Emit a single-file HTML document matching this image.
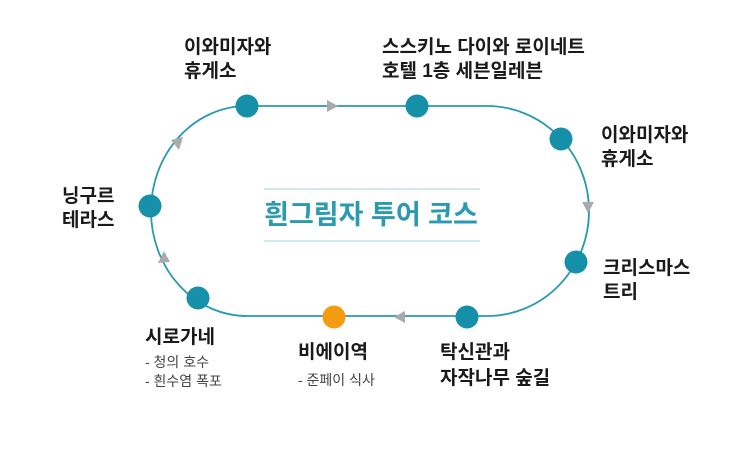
<!DOCTYPE html>
<html><head><meta charset="utf-8"><style>
body{margin:0;width:743px;height:450px;background:#fff;overflow:hidden}
svg text{font-family:"Liberation Sans","Noto Sans CJK KR",sans-serif}
.l{font-size:19px;font-weight:bold;fill:#1a1a1a}
.s{font-size:14px;fill:#444}
</style></head><body>
<svg width="743" height="450" xmlns="http://www.w3.org/2000/svg">
<path d="M247,106 L487,106 A102,105 0 0 1 487,316 L247,316 A96,105 0 0 1 247,106 Z" fill="none" stroke="#2a9ab0" stroke-width="1.8"/>
<line x1="264" y1="189" x2="480" y2="189" stroke="#9fd3de" stroke-width="1"/>
<line x1="264" y1="241" x2="480" y2="241" stroke="#9fd3de" stroke-width="1"/>
<text x="371" y="224" text-anchor="middle" font-size="27" font-weight="bold" fill="#2a9ab0">흰그림자 투어 코스</text>
<g fill="#aaa">
<polygon points="338,106 327,100 327,112"/>
<polygon points="588,213 582,202 594,202"/>
<polygon points="394,317 405,311 405,323"/>
<polygon points="164,251 158,263 170,262"/>
<polygon points="183,137 171,140 179,150"/>
</g>
<g fill="#168fa8">
<circle cx="247" cy="106" r="11.5"/><circle cx="417" cy="106" r="11.5"/>
<circle cx="561" cy="139" r="11.5"/><circle cx="576" cy="262" r="11.5"/>
<circle cx="467" cy="317" r="11.5"/><circle cx="198" cy="298" r="11.5"/>
<circle cx="150" cy="206" r="11.5"/>
</g>
<circle cx="334" cy="317" r="11.5" fill="#f39c12"/>
<text class="l" x="184" y="53">이와미자와</text><text class="l" x="184" y="77">휴게소</text>
<text class="l" x="382" y="53">스스키노 다이와 로이네트</text><text class="l" x="382" y="77">호텔 1층 세븐일레븐</text>
<text class="l" x="601" y="141">이와미자와</text><text class="l" x="601" y="165">휴게소</text>
<text class="l" x="603" y="274">크리스마스</text><text class="l" x="603" y="298">트리</text>
<text class="l" x="440" y="358">탁신관과</text><text class="l" x="440" y="384">자작나무 숲길</text>
<text class="l" x="298" y="358">비에이역</text><text class="s" x="298" y="385">- 준페이 식사</text>
<text class="l" x="145" y="343">시로가네</text><text class="s" x="145" y="367">- 청의 호수</text><text class="s" x="145" y="386">- 흰수염 폭포</text>
<text class="l" x="62" y="202">닝구르</text><text class="l" x="62" y="226">테라스</text>
</svg>
</body></html>
